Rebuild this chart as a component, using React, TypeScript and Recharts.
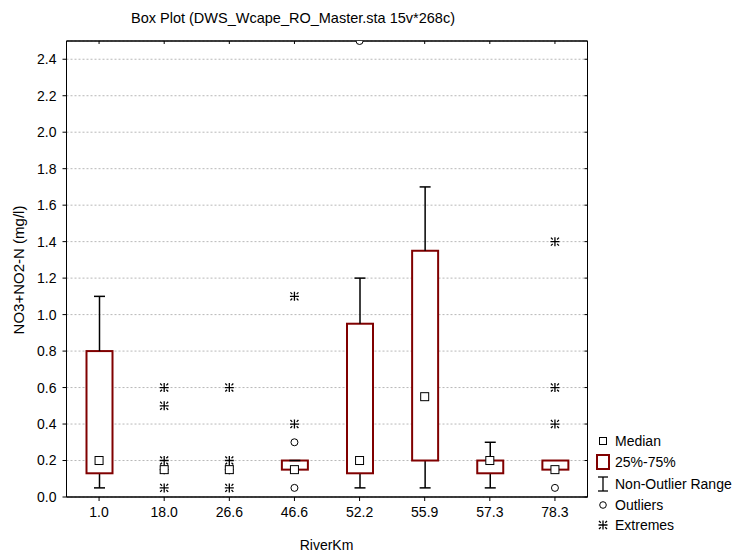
import React from 'react';
import {
  ComposedChart,
  Bar,
  Scatter,
  XAxis,
  YAxis,
  CartesianGrid,
  ReferenceArea,
  Customized,
} from 'recharts';

// ---- data ----
const categories = ['1.0', '18.0', '26.6', '46.6', '52.2', '55.9', '57.3', '78.3'];
const q1: (number | null)[] = [0.13, null, null, 0.15, 0.13, 0.2, 0.13, 0.15];
const q3: (number | null)[] = [0.8, null, null, 0.2, 0.95, 1.35, 0.2, 0.2];
const medians: number[] = [0.2, 0.15, 0.15, 0.15, 0.2, 0.55, 0.2, 0.15];
const whiskerLow: (number | null)[] = [0.05, null, null, null, 0.05, 0.05, 0.05, null];
const whiskerHigh: (number | null)[] = [1.1, null, null, 0.2, 1.2, 1.7, 0.3, null];
const outlierCats = ['46.6', '46.6', '52.2', '78.3'];
const outlierValues = [0.3, 0.05, 2.5, 0.05];
const extremeCats = ['18.0', '18.0', '18.0', '18.0', '18.0', '26.6', '26.6', '26.6', '26.6', '46.6', '46.6', '78.3', '78.3', '78.3'];
const extremeValues = [0.6, 0.5, 0.2, 0.15, 0.05, 0.6, 0.2, 0.15, 0.05, 1.1, 0.4, 1.4, 0.6, 0.4];
const yTicks = [0, 0.2, 0.4, 0.6, 0.8, 1.0, 1.2, 1.4, 1.6, 1.8, 2.0, 2.2, 2.4];
const legendLabels = ['Median', '25%-75%', 'Non-Outlier Range', 'Outliers', 'Extremes'];
const titleText = 'Box Plot (DWS_Wcape_RO_Master.sta 15v*268c)';
const yLabel = 'NO3+NO2-N (mg/l)';
const xLabel = 'RiverKm';

// ---- derived tables for the library ----
const data = categories.map((cat, i) => {
  const a = q1[i];
  const b = q3[i];
  if (a == null || b == null) {
    return { cat, base: null, lowW: null, box: null, upW: null, lowCap: false, upCap: false, hasBox: false };
  }
  const lo = whiskerLow[i] ?? a;
  const hi = whiskerHigh[i] ?? b;
  return {
    cat,
    base: lo,
    lowW: a - lo,
    box: b - a,
    upW: hi - b,
    lowCap: whiskerLow[i] != null,
    upCap: whiskerHigh[i] != null,
    hasBox: true,
  };
});
const medianData = categories.map((cat, i) => ({ cat, v: medians[i] }));
const outlierData = outlierCats.map((cat, i) => ({ cat, v: outlierValues[i] }));
const extremeData = extremeCats.map((cat, i) => ({ cat, v: extremeValues[i] }));

const FONT = '"Liberation Sans", Arial, sans-serif';
const BOX_RED = '#800000';
const CAP = 5.5;

const Empty = () => <g />;

const LowWhisker = (p: any) => {
  const { x, y, width, height, payload } = p;
  if (!payload || !payload.lowCap) return <g />;
  const cx = x + width / 2;
  const yb = y + height;
  return (
    <g>
      <line x1={cx} x2={cx} y1={y} y2={yb} stroke="#000" strokeWidth={1.5} />
      <line x1={cx - CAP} x2={cx + CAP} y1={yb} y2={yb} stroke="#000" strokeWidth={1.5} />
    </g>
  );
};

const UpWhisker = (p: any) => {
  const { x, y, width, height, payload } = p;
  if (!payload || !payload.upCap) return <g />;
  const cx = x + width / 2;
  return (
    <g>
      <line x1={cx} x2={cx} y1={y} y2={y + height} stroke="#000" strokeWidth={1.5} />
      <line x1={cx - CAP} x2={cx + CAP} y1={y} y2={y} stroke="#000" strokeWidth={1.5} />
    </g>
  );
};

const BoxShape = (p: any) => {
  const { x, y, width, height, payload } = p;
  if (!payload || !payload.hasBox || height == null || isNaN(height)) return <g />;
  return <rect x={x} y={y} width={width} height={Math.max(height, 0.5)} fill="#fff" stroke={BOX_RED} strokeWidth={2} />;
};

const MedianShape = (p: any) => {
  const { cx, cy } = p;
  if (cx == null || cy == null) return <g />;
  return <rect x={cx - 4} y={cy - 4} width={8} height={8} fill="#fff" stroke="#000" strokeWidth={1} />;
};

const OutlierShape = (p: any) => {
  const { cx, cy } = p;
  if (cx == null || cy == null) return <g />;
  return <circle cx={cx} cy={cy} r={3.5} fill="#fff" stroke="#000" strokeWidth={1} />;
};

const starPath = (cx: number, cy: number) => {
  const r = 4.5;
  const d1 = 2.2;
  const d2 = 4;
  return (
    `M${cx - r},${cy}L${cx + r},${cy}M${cx},${cy - r}L${cx},${cy + r}` +
    `M${cx - d1},${cy - d1}L${cx - d2},${cy - d2}M${cx + d1},${cy - d1}L${cx + d2},${cy - d2}` +
    `M${cx - d1},${cy + d1}L${cx - d2},${cy + d2}M${cx + d1},${cy + d1}L${cx + d2},${cy + d2}`
  );
};

const ExtremeShape = (p: any) => {
  const { cx, cy } = p;
  if (cx == null || cy == null) return <g />;
  return <path d={starPath(cx, cy)} stroke="#000" strokeWidth={1.3} fill="none" />;
};

const Decorations = () => {
  const lx = 603;
  const tx = 615;
  const ys = [441, 462, 484, 505, 525];
  return (
    <g fontFamily={FONT} fontSize={14} fill="#000">
      <text x={293} y={23} textAnchor="middle" fontSize={14.5}>{titleText}</text>
      <text
        x={18}
        y={270}
        transform="rotate(-90 18 270)"
        textAnchor="middle"
        dominantBaseline="central"
        fontSize={15}
      >
        {yLabel}
      </text>
      <text x={326.5} y={550} textAnchor="middle">{xLabel}</text>
      {/* legend */}
      <rect x={lx - 3.5} y={ys[0] - 3.5} width={7} height={7} fill="#fff" stroke="#000" strokeWidth={1} />
      <rect x={lx - 6} y={ys[1] - 7} width={12} height={14} fill="#fff" stroke={BOX_RED} strokeWidth={2} />
      <g stroke="#000" strokeWidth={1.3}>
        <line x1={lx} x2={lx} y1={ys[2] - 7} y2={ys[2] + 7} />
        <line x1={lx - 5} x2={lx + 5} y1={ys[2] - 7} y2={ys[2] - 7} />
        <line x1={lx - 5} x2={lx + 5} y1={ys[2] + 7} y2={ys[2] + 7} />
      </g>
      <circle cx={lx} cy={ys[3]} r={3.3} fill="#fff" stroke="#000" strokeWidth={1} />
      <path d={starPath(lx, ys[4])} stroke="#000" strokeWidth={1.3} fill="none" />
      {legendLabels.map((l, i) => (
        <text key={l} x={tx} y={ys[i] + 5}>{l}</text>
      ))}
    </g>
  );
};

const noTick = () => <g />;

export default function App() {
  return (
    <div style={{ position: 'absolute', left: 0, top: 0, width: 743, height: 554, background: '#fff' }}>
      <ComposedChart
        width={743}
        height={554}
        data={data}
        margin={{ top: 41, right: 155.5, bottom: 27, left: 6.5 }}
        barSize={26}
      >
        <CartesianGrid vertical={false} stroke="#b8b8b8" strokeDasharray="2 2" />
        <XAxis
          dataKey="cat"
          type="category"
          allowDuplicatedCategory={false}
          height={30}
          axisLine={{ stroke: '#000' }}
          tickLine={{ stroke: '#000' }}
          tickSize={4}
          tickMargin={6}
          tick={{ fill: '#000', fontSize: 14, fontFamily: FONT }}
          interval={0}
        />
        <XAxis
          xAxisId="top"
          dataKey="cat"
          type="category"
          allowDuplicatedCategory={false}
          orientation="top"
          height={1}
          mirror
          tickSize={3}
          axisLine={{ stroke: '#000' }}
          tickLine={{ stroke: '#000' }}
          tick={noTick}
          interval={0}
        />
        <YAxis
          type="number"
          domain={[0, 2.5]}
          ticks={yTicks}
          allowDataOverflow
          width={60}
          axisLine={{ stroke: '#000' }}
          tickLine={{ stroke: '#000' }}
          tickSize={4}
          tickMargin={6}
          tickFormatter={(v: number) => v.toFixed(1)}
          tick={{ fill: '#000', fontSize: 14, fontFamily: FONT }}
          interval={0}
        />
        <YAxis
          yAxisId="right"
          orientation="right"
          type="number"
          domain={[0, 2.5]}
          ticks={yTicks}
          allowDataOverflow
          width={1}
          mirror
          tickSize={3}
          axisLine={{ stroke: '#000' }}
          tickLine={{ stroke: '#000' }}
          tick={noTick}
          interval={0}
        />
        <ReferenceArea y1={0} y2={2.5} fill="none" stroke="#000" strokeWidth={1} fillOpacity={0} ifOverflow="visible" />
        <Bar dataKey="base" stackId="s" shape={Empty} isAnimationActive={false} />
        <Bar dataKey="lowW" stackId="s" shape={LowWhisker} isAnimationActive={false} />
        <Bar dataKey="box" stackId="s" shape={BoxShape} isAnimationActive={false} />
        <Bar dataKey="upW" stackId="s" shape={UpWhisker} isAnimationActive={false} />
        <Scatter data={extremeData} dataKey="v" shape={ExtremeShape} isAnimationActive={false} />
        <Scatter data={outlierData} dataKey="v" shape={OutlierShape} isAnimationActive={false} />
        <Scatter data={medianData} dataKey="v" shape={MedianShape} isAnimationActive={false} />
        <Scatter xAxisId="top" yAxisId="right" data={medianData} dataKey="v" shape={Empty} isAnimationActive={false} />
        <Customized component={Decorations} />
      </ComposedChart>
    </div>
  );
}
